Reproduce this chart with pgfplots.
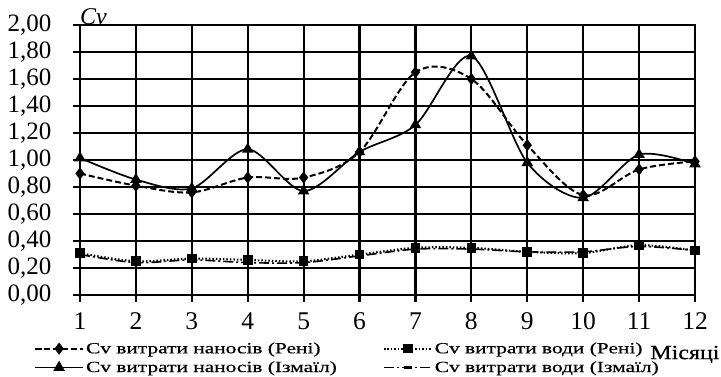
\documentclass[border=0pt]{standalone}
\usepackage{fontspec}
\setmainfont{Liberation Serif}
\newfontfamily\legfont[FakeStretch=1.38,FakeBold=0.6]{Liberation Serif}
\newfontfamily\monfont[FakeStretch=1.2,FakeBold=0.6]{Liberation Serif}
\usepackage{pgfplots}
\pgfplotsset{compat=1.18}
\begin{document}
\begin{tikzpicture}
\begin{axis}[
  scale only axis, width=615bp, height=270bp,
  xmin=1, xmax=12, ymin=0, ymax=2,
  xtick={1,2,3,4,5,6,7,8,9,10,11,12},
  ytick={0,0.2,0.4,0.6,0.8,1.0,1.2,1.4,1.6,1.8,2.0},
  grid=major,
  grid style={line width=2.1bp, black},
  axis line style={line width=2.1bp, black},
  tick style={line width=2.1bp, black},
  major tick length=7bp,
  tick align=outside,
  xtick pos=bottom, ytick pos=left,
  /pgf/number format/assume math mode=true,
  yticklabel style={/pgf/number format/fixed, /pgf/number format/fixed zerofill,
     /pgf/number format/precision=2, /pgf/number format/use comma,
     font=\fontsize{25bp}{28bp}\selectfont, xshift=-18bp},
  xticklabel style={font=\fontsize{25.5bp}{28bp}\selectfont, yshift=-7bp},
  legend columns=2,
  legend cell align=left,
  legend style={at={(-0.075,-0.168)}, anchor=north west, draw=none, fill=none,
     font=\legfont\fontsize{15.5bp}{17bp}\selectfont, inner sep=0pt,
     row sep=2.5bp,
     /tikz/every even column/.append style={column sep=44bp}},
  legend image code/.code={\draw[mark repeat=2,mark phase=2] plot coordinates {(0bp,0bp) (24bp,0bp) (48bp,0bp)};},
  clip=false,
]
\addplot[black, line width=2bp, dash pattern=on 6bp off 3bp, smooth, tension=0.55,
  mark=diamond*, mark size=4.5bp, mark options={solid}]
  coordinates {(1,0.90)(2,0.81)(3,0.76)(4,0.87)(5,0.87)(6,1.06)(7,1.65)(8,1.60)(9,1.11)(10,0.74)(11,0.93)(12,0.99)};
\addlegendentry{Cv витрати наносів (Рені)}
\addplot[black, line width=2bp, dash pattern=on 1.5bp off 2bp, smooth,
  mark=square*, mark size=3.8bp, mark options={solid}]
  coordinates {(1,0.31)(2,0.25)(3,0.27)(4,0.26)(5,0.25)(6,0.30)(7,0.35)(8,0.35)(9,0.32)(10,0.31)(11,0.37)(12,0.33)};
\addlegendentry{Cv витрати води (Рені)}
\addplot[black, line width=1.7bp, smooth,
  mark=triangle*, mark size=5bp, mark options={solid}]
  coordinates {(1,1.015)(2,0.855)(3,0.79)(4,1.08)(5,0.77)(6,1.06)(7,1.26)(8,1.77)(9,0.98)(10,0.72)(11,1.04)(12,0.97)};
\addlegendentry{Cv витрати наносів (Ізмаїл)}
\addplot[black, line width=1.6bp, dash pattern=on 10bp off 3bp on 2bp off 3bp, smooth,
  mark=-, mark size=4bp, mark options={solid, line width=2.8bp}]
  coordinates {(1,0.30)(2,0.24)(3,0.26)(4,0.24)(5,0.24)(6,0.29)(7,0.34)(8,0.34)(9,0.32)(10,0.32)(11,0.36)(12,0.33)};
\addlegendentry{Cv витрати води (Ізмаїл)}
\node[anchor=south west, inner sep=0pt, font=\itshape\fontsize{24bp}{26bp}\selectfont] at (rel axis cs:0,1) {Cv};
\node[anchor=west, inner sep=0pt, font=\monfont\fontsize{20bp}{24bp}\selectfont] at (rel axis cs:0.927,-0.22) {Місяці};
\end{axis}
\pgfresetboundingbox
\path (-80bp,-82bp) rectangle (641bp,295bp);
\end{tikzpicture}
\end{document}
